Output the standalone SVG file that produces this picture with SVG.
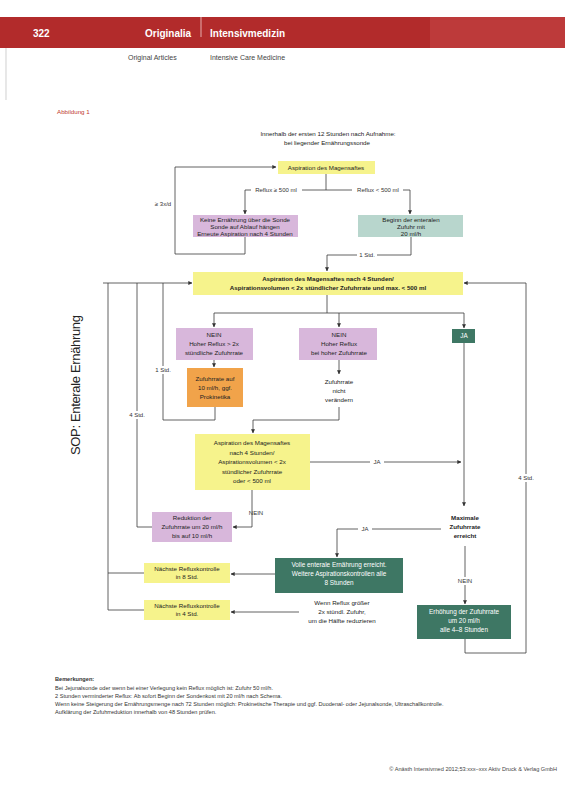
<svg xmlns="http://www.w3.org/2000/svg" width="565" height="800" viewBox="0 0 565 800">
<style>
text{font-family:"Liberation Sans",Arial,sans-serif;}
.t{font-size:6.2px;fill:#222;text-anchor:middle;}
.tb{font-size:6.2px;fill:#222;text-anchor:middle;font-weight:bold;}
.tw{font-size:6.4px;fill:#fff;text-anchor:middle;}
.lbl{font-size:6px;fill:#333;text-anchor:middle;}
.c{fill:none;stroke:#3a3a3a;stroke-width:0.8;}
.ca{fill:none;stroke:#3a3a3a;stroke-width:0.8;marker-end:url(#ah);}
.bg{fill:#fff;}
.yel{fill:#f6f38c;}
.pur{fill:#d8b7db;}
.teal{fill:#b8d6cd;}
.grn{fill:#3e7764;}
.org{fill:#f1a34a;}
.note{font-size:5.6px;fill:#333;}
</style>
<defs>
<marker id="ah" viewBox="0 0 6 6" refX="5.5" refY="3" markerWidth="5" markerHeight="5" orient="auto">
<path d="M0,0 L6,3 L0,6 z" fill="#333"/>
</marker>
</defs>
<rect width="565" height="800" fill="#fff"/>

<g id="header">
<rect x="0" y="17" width="565" height="31" fill="#b22b2b"/>
<rect x="430" y="17" width="135" height="31" fill="#bd3a3a"/>
<line x1="201" y1="17" x2="201" y2="37" stroke="#f2d0d0" stroke-width="0.8"/>
<text x="33" y="37" font-size="10" font-weight="bold" fill="#fff">322</text>
<text x="145" y="37" font-size="10" font-weight="bold" fill="#fff">Originalia</text>
<text x="210" y="37" font-size="10" font-weight="bold" fill="#fff">Intensivmedizin</text>
<text x="128" y="60" font-size="7" fill="#444">Original Articles</text>
<text x="210" y="60" font-size="7" fill="#444">Intensive Care Medicine</text>
<line x1="6" y1="48" x2="6" y2="100" stroke="#bbb" stroke-width="0.7"/>
</g>

<text x="57" y="114" font-size="6.2" fill="#c0392b">Abbildung 1</text>
<text x="80" y="385" font-size="13" fill="#222" text-anchor="middle" transform="rotate(-90 80 385)" textLength="140">SOP: Enterale Ernährung</text>

<text x="328" y="136" class="t">Innerhalb der ersten 12 Stunden nach Aufnahme:</text>
<text x="327" y="145" class="t">bei liegender Ernährungssonde</text>

<g id="connectors">
<path class="ca" d="M245,237 V254 H175 V167 H276"/>
<path class="c" d="M326,174 V190 M245,190 H410"/>
<path class="ca" d="M245,190 V214"/>
<path class="ca" d="M410,190 V214"/>
<path class="ca" d="M411,237 V255 H327 V271"/>
<path class="c" d="M327,295 V313 M214,313 H464"/>
<path class="ca" d="M214,313 V327"/>
<path class="ca" d="M339,313 V327"/>
<path class="ca" d="M464,313 V328"/>
<path class="ca" d="M214,360 V367"/>
<path class="ca" d="M339,360 V374"/>
<path class="c" d="M215,407 V420 H163 V283"/>
<path class="ca" d="M339,407 V420 H253 V433"/>
<path class="ca" d="M103,283 H192"/>
<path class="c" d="M152,527 H137 V283"/>
<path class="c" d="M144,573 H108 M144,610 H108 V283"/>
<path class="ca" d="M464,343 V506"/>
<path class="ca" d="M310,462 H461"/>
<path class="ca" d="M252,490 V527 H233"/>
<path class="ca" d="M441,529 H337 V557"/>
<path class="ca" d="M465,546 V604"/>
<path class="ca" d="M275,574 H231"/>
<path class="ca" d="M299,612 H231"/>
<path class="ca" d="M465,639 V653 H526 V283 H464"/>

<rect class="bg" x="153" y="200" width="20" height="8"/>
<text x="163" y="206" class="lbl">≥ 3x/d</text>
<rect class="bg" x="251" y="186" width="51" height="8"/>
<text x="276" y="192" class="lbl">Reflux ≥ 500 ml</text>
<rect class="bg" x="352" y="186" width="51" height="8"/>
<text x="378" y="192" class="lbl">Reflux &lt; 500 ml</text>
<rect class="bg" x="357" y="251" width="20" height="8"/>
<text x="367" y="257" class="lbl">1 Std.</text>
<rect class="bg" x="154" y="366" width="18" height="8"/>
<text x="163" y="372" class="lbl">1 Std.</text>
<rect class="bg" x="128" y="411" width="18" height="8"/>
<text x="137" y="417" class="lbl">4 Std.</text>
<rect class="bg" x="370" y="458" width="14" height="8"/>
<text x="377" y="464" class="lbl">JA</text>
<text x="256" y="515" class="lbl" text-anchor="start">NEIN</text>
<rect class="bg" x="358" y="525" width="14" height="8"/>
<text x="365" y="531" class="lbl">JA</text>
<rect class="bg" x="455" y="577" width="20" height="8"/>
<text x="465" y="583" class="lbl">NEIN</text>
<rect class="bg" x="517" y="474" width="18" height="8"/>
<text x="526" y="480" class="lbl">4 Std.</text>
</g>

<g id="n_aspiration1">
<rect class="yel" x="278" y="161" width="97" height="13"/>
<text x="326" y="170" class="t">Aspiration des Magensaftes</text>
</g>

<g id="n_keine">
<rect class="pur" x="193" y="215" width="105" height="22"/>
<text x="245" y="222" class="t">Keine Ernährung über die Sonde</text>
<text x="245" y="229" class="t">Sonde auf Ablauf hängen</text>
<text x="245" y="236" class="t">Erneute Aspiration nach 4 Stunden</text>
</g>

<g id="n_beginn">
<rect class="teal" x="358" y="215" width="105" height="22"/>
<text x="411" y="222" class="t">Beginn der enteralen</text>
<text x="411" y="229" class="t">Zufuhr mit</text>
<text x="411" y="236" class="t">20 ml/h</text>
</g>

<g id="n_aspiration4h">
<rect class="yel" x="193" y="272" width="270" height="23"/>
<text x="328" y="281" class="tb">Aspiration des Magensaftes nach 4 Stunden/</text>
<text x="328" y="290" class="tb">Aspirationsvolumen &lt; 2x stündlicher Zufuhrrate und max. &lt; 500 ml</text>
</g>

<g id="n_nein1">
<rect class="pur" x="176" y="328" width="77" height="32"/>
<text x="214" y="337" class="t">NEIN</text>
<text x="214" y="346" class="t">Hoher Reflux &gt; 2x</text>
<text x="214" y="355" class="t">stündliche Zufuhrrate</text>
</g>

<g id="n_nein2">
<rect class="pur" x="299" y="328" width="78" height="32"/>
<text x="339" y="337" class="t">NEIN</text>
<text x="339" y="346" class="t">Hoher Reflux</text>
<text x="339" y="355" class="t">bei hoher Zufuhrrate</text>
</g>

<g id="n_ja">
<rect class="grn" x="452" y="329" width="23" height="14"/>
<text x="464" y="338" class="tw">JA</text>
</g>

<g id="n_orange">
<rect class="org" x="187" y="368" width="56" height="39"/>
<text x="215" y="381" class="t" fill="#5a2a00">Zufuhrrate auf</text>
<text x="215" y="390" class="t">10 ml/h, ggf.</text>
<text x="215" y="399" class="t">Prokinetika</text>
</g>

<g id="n_nichtveraendern">
<rect class="bg" x="312" y="375" width="54" height="32"/>
<text x="339" y="384" class="t">Zufuhrrate</text>
<text x="339" y="393" class="t">nicht</text>
<text x="339" y="402" class="t">verändern</text>
</g>

<g id="n_aspiration2">
<rect class="yel" x="195" y="434" width="115" height="56"/>
<text x="252" y="445" class="t">Aspiration des Magensaftes</text>
<text x="252" y="454.5" class="t">nach 4 Stunden/</text>
<text x="252" y="464" class="t">Aspirationsvolumen &lt; 2x</text>
<text x="252" y="473.5" class="t">stündlicher Zufuhrrate</text>
<text x="252" y="483" class="t">oder &lt; 500 ml</text>
</g>

<g id="n_reduktion">
<rect class="pur" x="152" y="512" width="80" height="30"/>
<text x="192" y="520" class="t">Reduktion der</text>
<text x="192" y="529" class="t">Zufuhrrate um 20 ml/h</text>
<text x="192" y="538" class="t">bis auf 10 ml/h</text>
</g>

<g id="n_maximal">
<rect class="bg" x="441" y="510" width="48" height="35"/>
<text x="465" y="520" class="tb">Maximale</text>
<text x="465" y="529" class="tb">Zufuhrrate</text>
<text x="465" y="538" class="tb">erreicht</text>
</g>

<g id="n_volle">
<rect class="grn" x="275" y="558" width="128" height="35"/>
<text x="339" y="567" class="tw">Volle enterale Ernährung erreicht.</text>
<text x="339" y="576" class="tw">Weitere Aspirationskontrollen alle</text>
<text x="339" y="585" class="tw">8 Stunden</text>
</g>

<g id="n_kontrolle8">
<rect class="yel" x="144" y="563" width="86" height="20"/>
<text x="187" y="571" class="t">Nächste Refluxkontrolle</text>
<text x="187" y="579" class="t">in 8 Std.</text>
</g>

<g id="n_kontrolle4">
<rect class="yel" x="144" y="600" width="86" height="20"/>
<text x="187" y="608" class="t">Nächste Refluxkontrolle</text>
<text x="187" y="616" class="t">in 4 Std.</text>
</g>

<g id="n_wenn">
<text x="342" y="605" class="t">Wenn Reflux größer</text>
<text x="342" y="614" class="t">2x stündl. Zufuhr,</text>
<text x="342" y="623" class="t">um die Hälfte reduzieren</text>
</g>

<g id="n_erhoehung">
<rect class="grn" x="417" y="605" width="94" height="34"/>
<text x="464" y="614" class="tw">Erhöhung der Zufuhrrate</text>
<text x="464" y="623" class="tw">um 20 ml/h</text>
<text x="464" y="632" class="tw">alle 4–8 Stunden</text>
</g>

<g id="notes">
<text x="55" y="681" class="note" font-weight="bold">Bemerkungen:</text>
<text x="55" y="690" class="note">Bei Jejunalsonde oder wenn bei einer Verlegung kein Reflux möglich ist: Zufuhr 50 ml/h.</text>
<text x="55" y="698" class="note">2 Stunden verminderter Reflux: Ab sofort Beginn der Sondenkost mit 20 ml/h nach Schema.</text>
<text x="55" y="706" class="note">Wenn keine Steigerung der Ernährungsmenge nach 72 Stunden möglich: Prokinetische Therapie und ggf. Duodenal- oder Jejunalsonde, Ultraschallkontrolle.</text>
<text x="55" y="714" class="note">Aufklärung der Zufuhrreduktion innerhalb von 48 Stunden prüfen.</text>
</g>

<text x="557" y="771" font-size="5.6" fill="#444" text-anchor="end">© Anästh Intensivmed 2012;53:xxx–xxx  Aktiv Druck &amp; Verlag GmbH</text>
</svg>
